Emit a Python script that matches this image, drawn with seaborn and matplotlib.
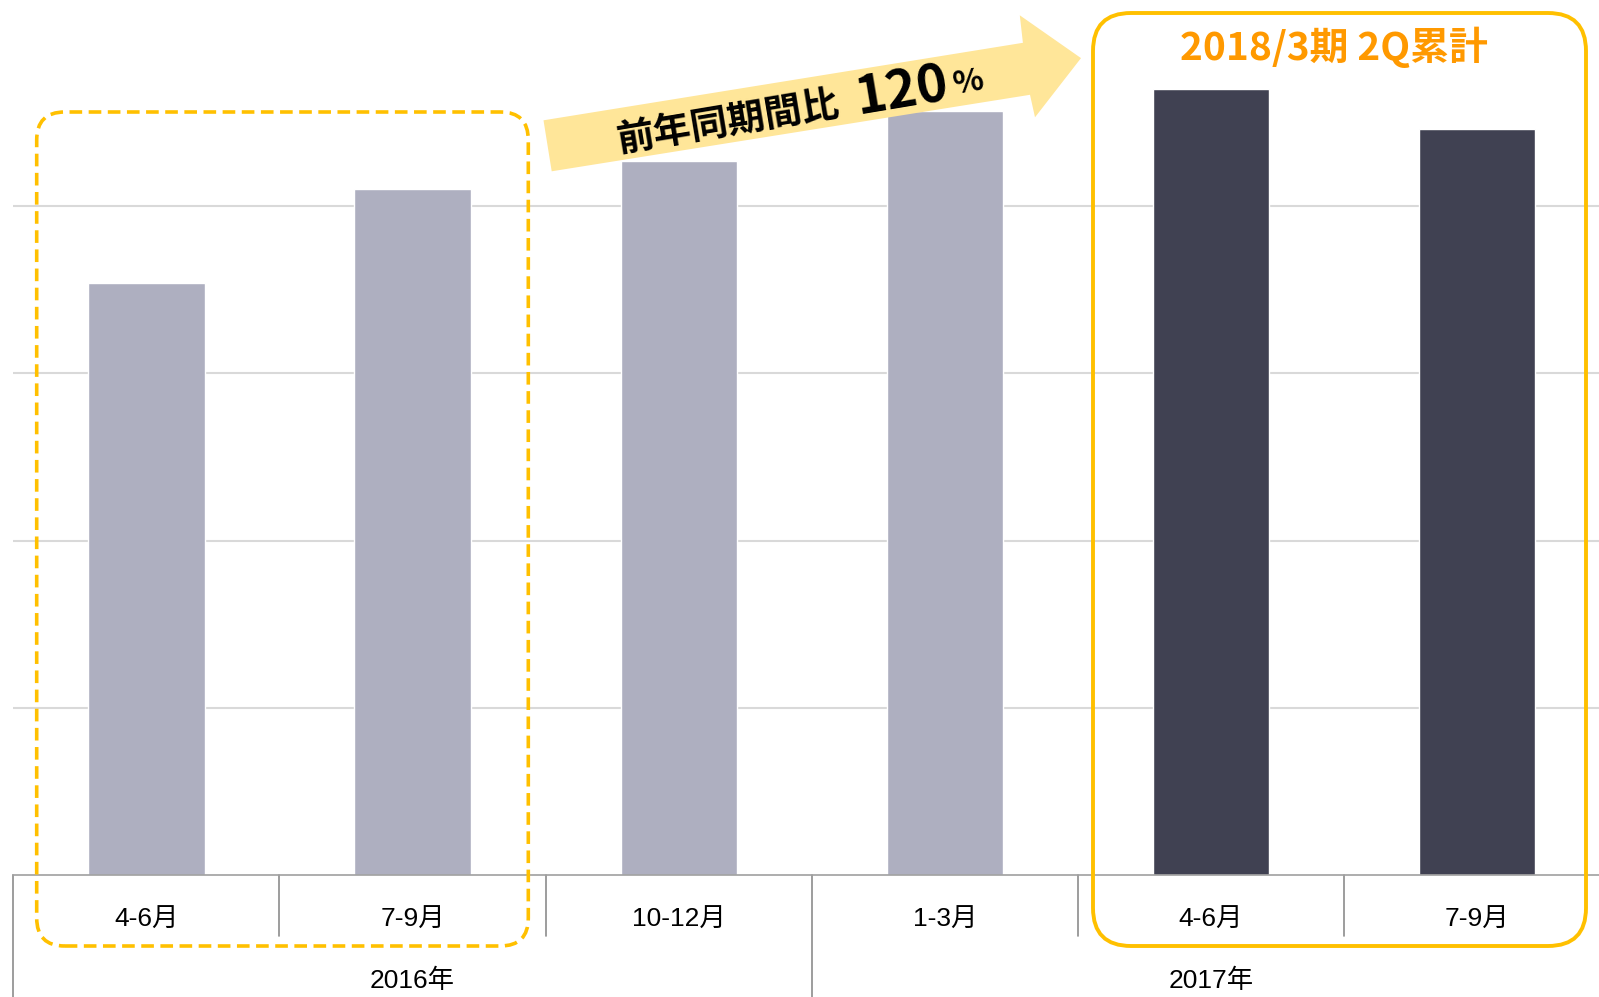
import matplotlib
matplotlib.use("Agg")
import matplotlib.pyplot as plt
import seaborn as sns
import pandas as pd
from matplotlib.patches import FancyBboxPatch, Polygon
from matplotlib.transforms import IdentityTransform, blended_transform_factory

# ---- data ----
periods = ["2016年4-6月", "2016年7-9月", "2016年10-12月", "2017年1-3月", "2017年4-6月", "2017年7-9月"]
month_labels = ["4-6月", "7-9月", "10-12月", "1-3月", "4-6月", "7-9月"]
year_labels = ["2016年", "2017年"]
year_centers = [1.0, 4.0]
values = [354, 410, 427, 457, 470, 446]
bar_colors = ["#AEAFC0", "#AEAFC0", "#AEAFC0", "#AEAFC0", "#404152", "#404152"]
title_text = "2018/3期 2Q累計"
arrow_text = "前年同期間比"
growth_text = "120"
pct_text = "%"

sns.set_theme(style="white")
plt.rcParams['font.family'] = ['Liberation Sans Narrow', 'Liberation Sans', 'Noto Sans CJK JP']

W, H = 1599, 997
fig = plt.figure(figsize=(W / 100, H / 100), dpi=100)
ax = fig.add_axes([13.3 / W, 122 / H, 1 - 13.3 / W, 875 / H])

df = pd.DataFrame({"period": periods, "value": values})
sns.barplot(data=df, x="period", y="value", hue="period", palette=bar_colors,
            width=0.437, legend=False, ax=ax, saturation=1)

ax.set_xlim(-0.5, 5.458)
ax.set_ylim(0, 523.3)
ax.set_yticks([100, 200, 300, 400])
ax.set_axisbelow(True)
ax.yaxis.grid(True, color="#D9D9D9", linewidth=1.5)
ax.xaxis.grid(False)
ax.set_xticks([])
ax.set_yticklabels([])
ax.tick_params(left=False, bottom=False, labelleft=False)
ax.set_xlabel("")
ax.set_ylabel("")
for s in ["top", "right", "left"]:
    ax.spines[s].set_visible(False)
ax.spines["bottom"].set_color("#A0A0A0")
ax.spines["bottom"].set_linewidth(1.2)

# two-level category axis
tr = blended_transform_factory(ax.transData, ax.transAxes)
for xb in [-0.5, 2.5, 5.5]:
    ax.plot([xb, xb], [0, -0.1394], transform=tr, color="#8C8C8C", lw=1.2, clip_on=False)
for xb in [0.5, 1.5, 3.5, 4.5]:
    ax.plot([xb, xb], [0, -0.0697], transform=tr, color="#8C8C8C", lw=1.2, clip_on=False)
for i, lab in enumerate(month_labels):
    ax.text(i, -0.051, lab, transform=tr, ha="center", va="center", fontsize=19, color="black")
for xc, lab in zip(year_centers, year_labels):
    ax.text(xc, -0.1205, lab, transform=tr, ha="center", va="center", fontsize=19, color="black")

ident = IdentityTransform()

# dashed highlight box (previous year)
dbox = FancyBboxPatch((36.7, 51), 528.3 - 36.7, 885 - 51,
                      boxstyle="round,pad=0,rounding_size=28", transform=ident,
                      fill=False, ec="#FFC000", lw=2.6, ls=(0, (3.5, 1.8)))
fig.add_artist(dbox)

# solid highlight box (current period)
sbox = FancyBboxPatch((1093, 51), 1586 - 1093, 984 - 51,
                      boxstyle="round,pad=0,rounding_size=38", transform=ident,
                      fill=False, ec="#FFC000", lw=2.8)
fig.add_artist(sbox)

fig.text(1334, 950, title_text, color="#FF9900", fontsize=28, fontweight="bold",
         ha="center", va="center", family=["Noto Sans CJK JP"], transform=ident)

# arrow
arrow_pts = [(543.5, 876.7), (1022.9, 954.2), (1019.8, 981.7), (1081, 938.9),
             (1035, 879.7), (1030, 902.2), (551.7, 825.7)]
fig.add_artist(Polygon(arrow_pts, closed=True, transform=ident, fc="#FFE699", ec="none"))

rot = 9.5
fig.text(728, 875, arrow_text, fontsize=27, fontweight="bold", color="black",
         ha="center", va="center", rotation=rot, rotation_mode="anchor",
         family=["Noto Sans CJK JP"], transform=ident)
fig.text(902, 906, growth_text, fontsize=38, fontweight="bold", color="black",
         ha="center", va="center", rotation=rot, rotation_mode="anchor",
         family=["Noto Sans CJK JP"], transform=ident)
fig.text(969, 914, pct_text, fontsize=23, fontweight="bold", color="black",
         ha="center", va="center", rotation=rot, rotation_mode="anchor",
         family=["Noto Sans CJK JP"], transform=ident)

fig.savefig("out.png", dpi=100)
